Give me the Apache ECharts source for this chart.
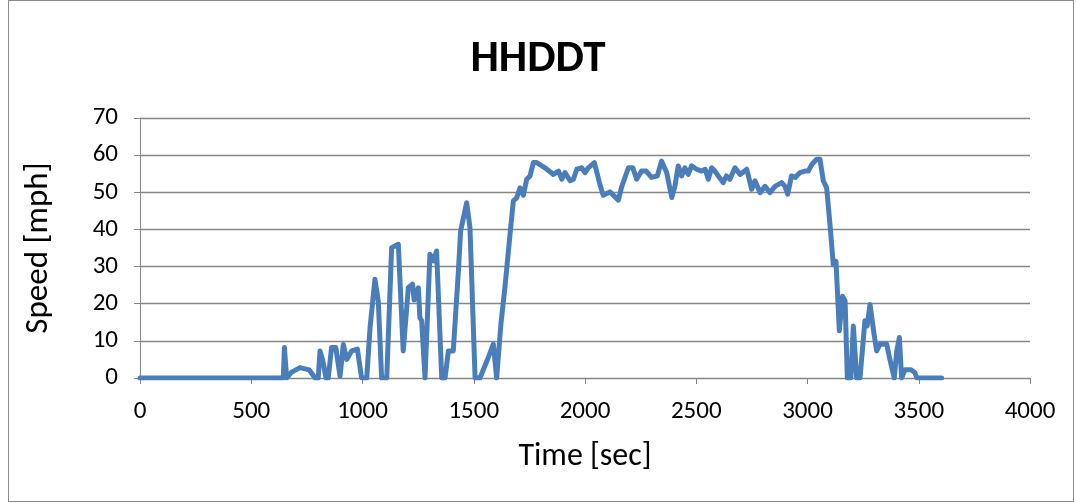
<!DOCTYPE html>
<html>
<head>
<meta charset="utf-8">
<script src="https://cdn.jsdelivr.net/npm/echarts@6/dist/echarts.min.js"></script>
<style>
html,body{margin:0;padding:0;background:#fff;}
#frame{position:absolute;left:8px;top:0;width:1066px;height:502px;border:1px solid #8c8c8c;box-sizing:border-box;}
#chart{position:absolute;left:0;top:0;width:1076px;height:503px;}
</style>
</head>
<body>
<div id="frame"></div>
<div id="chart"></div>
<script>
const chartTitle = "HHDDT";
const xAxisName = "Time [sec]";
const yAxisName = "Speed [mph]";
const timeSec = [0,200,400,644,649,659,680,719,760,787,801,809,822,836,846,861,880,899,914,929,951,977,996,1019,1034,1056,1071,1086,1109,1131,1161,1183,1206,1225,1232,1251,1258,1266,1281,1303,1318,1333,1356,1371,1386,1408,1431,1441,1468,1476,1483,1506,1528,1565,1588,1603,1622,1640,1663,1678,1693,1708,1723,1738,1753,1768,1783,1820,1858,1881,1896,1910,1933,1948,1963,1985,2000,2015,2042,2052,2067,2082,2112,2150,2165,2195,2215,2232,2254,2275,2299,2325,2344,2352,2367,2390,2404,2419,2434,2449,2464,2479,2502,2524,2540,2554,2569,2584,2599,2621,2636,2651,2674,2697,2727,2749,2764,2787,2809,2831,2854,2884,2899,2911,2928,2945,2966,2989,3004,3019,3041,3056,3071,3086,3101,3116,3128,3143,3158,3169,3179,3195,3206,3221,3236,3258,3268,3281,3288,3299,3311,3326,3356,3371,3390,3401,3413,3423,3438,3465,3483,3491,3603];
const speedMph = [0,0,0,0,8.2,0,1.5,2.8,2.2,0,0,7.3,4.6,0,0,8.2,8.2,0.5,9,5,7.3,7.8,0,0,13.6,26.6,20.7,0,0,35.1,36,7.3,24.3,25.3,21,24.3,16.2,15.4,0,33.3,31.5,34.2,0,0,7.3,7.3,28.8,39.6,47.2,47.2,40.5,0,0,5.5,9.1,0,14.5,24.3,38.7,47.7,48.5,51.2,49.2,53.5,54.4,58,58,56.6,54.8,55.7,53.5,55.3,53.1,53.5,56.2,56.6,55.3,56.6,58,55.7,52.1,49.2,50.1,47.9,51.5,56.6,56.6,53.5,55.7,55.7,54,54.4,58.4,58.4,55.3,48.6,51.6,57.1,54.4,56.6,54.8,57.1,56.2,55.7,56.2,53.5,56.6,55.7,54.4,52.6,54.4,53.5,56.6,54.8,56.2,50.8,53.1,49.9,51.6,49.9,51.6,52.6,51.6,49.5,54.4,54,55.3,55.7,55.7,57.5,58.9,58.9,53.1,51.2,41.4,30.5,31.4,12.7,22,20.7,0,0,14,0,0,15.4,14,19.8,20.2,11.8,7.3,9.1,9.1,4.8,0,7.3,10.9,0,2.2,2.2,1.4,0,0];
const xTicks = [0,500,1000,1500,2000,2500,3000,3500,4000];
const yTicks = [0,10,20,30,40,50,60,70];

const seriesData = timeSec.map((t, i) => [t, speedMph[i]]);
const chart = echarts.init(document.getElementById('chart'), null, {renderer: 'canvas'});
const axisFont = {fontFamily: 'Carlito, "Liberation Sans", "Open Sans", sans-serif', color: '#000'};
chart.setOption({
  animation: false,
  backgroundColor: 'transparent',
  title: {
    text: chartTitle,
    left: 'center',
    top: 32,
    textStyle: {fontFamily: 'Carlito, "Liberation Sans", Arial, sans-serif', fontWeight: 'bold', fontSize: 45, color: '#000'}
  },
  grid: {left: 140, right: 46, top: 118, bottom: 125, containLabel: false},
  xAxis: {
    type: 'value',
    min: xTicks[0], max: xTicks[xTicks.length - 1], interval: 500,
    name: xAxisName, nameLocation: 'middle', nameGap: 63,
    nameTextStyle: Object.assign({fontSize: 32}, axisFont),
    axisLine: {show: true, lineStyle: {color: '#868686', width: 1}},
    axisTick: {show: true, length: 6, lineStyle: {color: '#868686'}},
    axisLabel: Object.assign({fontSize: 25, margin: 21, formatter: v => String(v)}, axisFont),
    splitLine: {show: false}
  },
  yAxis: {
    type: 'value',
    min: yTicks[0], max: yTicks[yTicks.length - 1], interval: 10,
    name: yAxisName, nameLocation: 'middle', nameGap: 85, nameRotate: 90,
    nameTextStyle: Object.assign({fontSize: 33}, axisFont),
    axisLine: {show: true, lineStyle: {color: '#868686', width: 1}},
    axisTick: {show: true, length: 6, lineStyle: {color: '#868686'}},
    axisLabel: Object.assign({fontSize: 25, margin: 22, formatter: v => String(v)}, axisFont),
    splitLine: {show: true, lineStyle: {color: '#868686', width: 1.3}}
  },
  series: [{
    type: 'line',
    data: seriesData,
    showSymbol: false,
    smooth: false,
    lineStyle: {color: '#4a7ebb', width: 5, cap: 'round', join: 'round'},
    itemStyle: {color: '#4a7ebb'}
  }]
});
</script>
</body>
</html>
